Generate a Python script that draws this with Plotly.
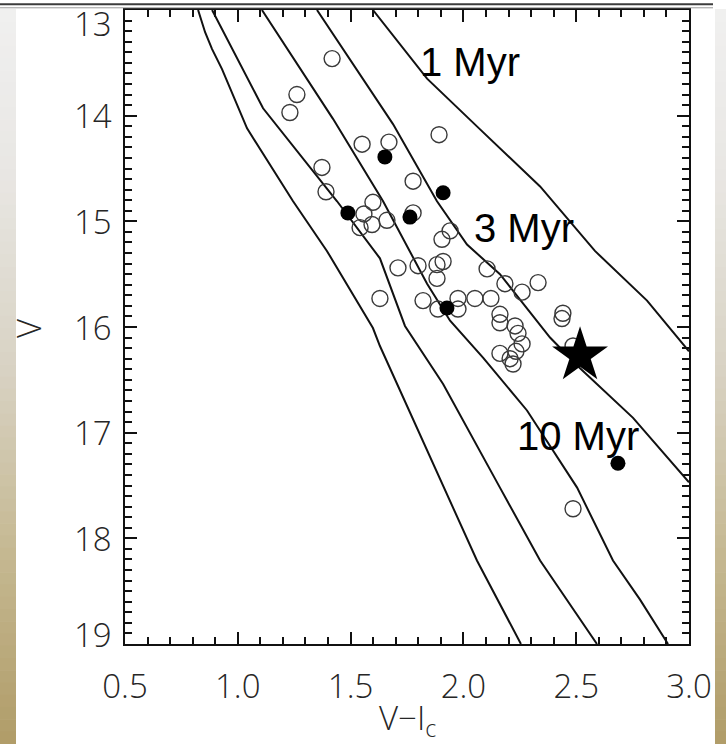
import plotly.graph_objects as go

# ---------------- data: colour-magnitude diagram ----------------
# isochrones (V - Ic, V), right to left
iso_1myr_vi = [1.599, 1.839, 2.074, 2.340, 2.583, 2.814, 3.000]
iso_1myr_v = [13.00, 13.65, 14.13, 14.67, 15.28, 15.75, 16.23]

iso_3myr_vi = [1.351, 1.688, 1.883, 2.016, 2.162, 2.384, 2.517, 2.752, 3.000]
iso_3myr_v = [13.00, 14.08, 14.81, 15.22, 15.50, 16.10, 16.39, 16.86, 17.47]

iso_10myr_vi = [1.107, 1.422, 1.644, 1.839, 1.941, 2.087, 2.282, 2.504, 2.663, 2.783, 2.907]
iso_10myr_v = [13.00, 14.03, 14.81, 15.59, 15.94, 16.29, 16.79, 17.52, 18.21, 18.58, 19.00]

iso_older_b_vi = [0.886, 1.112, 1.440, 1.630, 1.741, 1.910, 2.162, 2.340, 2.592]
iso_older_b_v = [13.00, 13.93, 14.81, 15.35, 15.99, 16.54, 17.52, 18.21, 19.00]

iso_older_a_vi = [0.824, 0.855, 0.886, 0.930, 1.041, 1.245, 1.395, 1.599, 1.630, 1.839, 2.060, 2.255]
iso_older_a_v = [13.00, 13.21, 13.37, 13.56, 14.12, 14.81, 15.28, 16.01, 16.18, 17.17, 18.21, 19.00]

iso_labels = ["1 Myr", "3 Myr", "10 Myr"]
iso_label_vi = [2.03, 2.27, 2.51]
iso_label_v = [13.49, 15.06, 17.03]

# members without / with the extra signature
open_vi = [1.418, 1.262, 1.231, 1.551, 1.670, 1.892, 1.373, 1.391, 1.777, 1.599,
           1.559, 1.542, 1.595, 1.661, 1.777, 1.941, 1.905, 1.710, 1.799, 1.883,
           1.910, 1.883, 2.105, 2.184, 2.260, 2.331, 1.630, 1.821, 1.887, 1.976,
           1.976, 2.051, 2.122, 2.162, 2.162, 2.229, 2.242, 2.260, 2.233, 2.162,
           2.207, 2.220, 2.441, 2.437, 2.486, 2.486]
open_v = [13.46, 13.80, 13.97, 14.27, 14.25, 14.18, 14.49, 14.72, 14.62, 14.82,
          14.93, 15.06, 15.03, 14.99, 14.92, 15.09, 15.17, 15.44, 15.42, 15.41,
          15.38, 15.54, 15.45, 15.59, 15.67, 15.58, 15.73, 15.75, 15.83, 15.73,
          15.83, 15.73, 15.73, 15.88, 15.96, 15.99, 16.06, 16.16, 16.23, 16.25,
          16.30, 16.35, 15.87, 15.92, 16.18, 17.72]

filled_vi = [1.652, 1.488, 1.763, 1.910, 1.927, 2.685]
filled_v = [14.39, 14.92, 14.96, 14.73, 15.82, 17.29]

star_vi = [2.517]
star_v = [16.27]

x_ticks = [0.5, 1.0, 1.5, 2.0, 2.5, 3.0]
y_ticks = [13, 14, 15, 16, 17, 18, 19]

# ---------------- figure geometry ----------------
W, H = 726, 744
L, R, T, B = 125, 689, 8, 644          # plot frame in pixels
PW, PH = R - L, B - T


def px_x(px):
    return (px - L) / PW


def px_y(py):
    return (B - py) / PH


FONT = "Liberation Sans, Arial, sans-serif"
AXFONT = dict(family="Open Sans, Liberation Sans, sans-serif", size=33,
              color="#262626", weight=300)
INK = "#111111"

fig = go.Figure()

isochrones = [
    (iso_older_a_vi, iso_older_a_v),
    (iso_older_b_vi, iso_older_b_v),
    (iso_10myr_vi, iso_10myr_v),
    (iso_3myr_vi, iso_3myr_v),
    (iso_1myr_vi, iso_1myr_v),
]
for xs, ys in isochrones:
    fig.add_trace(go.Scatter(x=xs, y=ys, mode="lines",
                             line=dict(color=INK, width=2),
                             hoverinfo="skip", showlegend=False))

fig.add_trace(go.Scatter(x=open_vi, y=open_v, mode="markers",
                         marker=dict(symbol="circle-open", size=16,
                                     line=dict(width=1.4, color="#3a3a3a"),
                                     color="#3a3a3a"),
                         showlegend=False))
fig.add_trace(go.Scatter(x=filled_vi, y=filled_v, mode="markers",
                         marker=dict(symbol="circle", size=15, color="black",
                                     line=dict(width=0)),
                         showlegend=False))
fig.add_trace(go.Scatter(x=star_vi, y=star_v, mode="markers",
                         marker=dict(symbol="star", size=42, color="black",
                                     line=dict(width=0)),
                         showlegend=False))

annotations = []
for txt, xv, yv in zip(iso_labels, iso_label_vi, iso_label_v):
    annotations.append(dict(x=xv, y=yv, xref="x", yref="y", text=txt,
                            showarrow=False, xanchor="center", yanchor="middle",
                            font=dict(family=FONT, size=40, color="black")))

# y tick labels (end labels sit slightly inside the frame)
end_nudge = {13: -13, 19: 10}
for v in y_ticks:
    annotations.append(dict(x=0, y=v, xref="paper", yref="y", text=str(v),
                            showarrow=False, xanchor="right", yanchor="middle",
                            xshift=-11, yshift=end_nudge.get(v, 0),
                            font=AXFONT))

# axis titles
annotations.append(dict(x=0.5, y=px_y(693), xref="paper", yref="paper",
                        text="V\u2212I<sub>c</sub>", showarrow=False,
                        xanchor="center", yanchor="top", font=AXFONT))
annotations.append(dict(x=px_x(29), y=px_y(327), xref="paper", yref="paper",
                        text="V", textangle=-90, showarrow=False,
                        xanchor="center", yanchor="middle", font=AXFONT))

# side strips with a grey-to-gold vertical gradient
stops = [(7, (240, 240, 240)), (180, (232, 230, 226)), (370, (216, 210, 195)),
         (555, (197, 184, 145)), (744, (176, 156, 104))]


def grad(py):
    for (y0, c0), (y1, c1) in zip(stops[:-1], stops[1:]):
        if py <= y1:
            t = (py - y0) / (y1 - y0)
            return "rgb(%d,%d,%d)" % tuple(round(a + (b - a) * t) for a, b in zip(c0, c1))
    return "rgb(%d,%d,%d)" % stops[-1][1]


shapes = []
n_bands = 60
for i in range(n_bands):
    ya = 7 + i * (H - 7) / n_bands
    yb = 7 + (i + 1) * (H - 7) / n_bands + 0.6
    col = grad((ya + yb) / 2)
    for xa, xb in [(0, 16), (715, 726)]:
        shapes.append(dict(type="rect", xref="paper", yref="paper",
                           x0=px_x(xa), x1=px_x(xb), y0=px_y(yb), y1=px_y(ya),
                           fillcolor=col, line=dict(width=0), layer="below"))

# rules across the top edge
shapes.append(dict(type="line", xref="paper", yref="paper",
                   x0=px_x(0), x1=px_x(713), y0=px_y(2.2), y1=px_y(2.2),
                   line=dict(color="#3c3c3c", width=2)))
shapes.append(dict(type="line", xref="paper", yref="paper",
                   x0=px_x(0), x1=px_x(713), y0=px_y(5.8), y1=px_y(5.8),
                   line=dict(color="#9a9a9a", width=1)))

axis_common = dict(showline=True, linewidth=2, linecolor=INK, mirror="ticks",
                   ticks="inside", tickwidth=2, tickcolor=INK, ticklen=12,
                   showgrid=False, zeroline=False)

fig.update_layout(
    width=W, height=H,
    margin=dict(l=L, r=W - R, t=T, b=H - B),
    paper_bgcolor="white", plot_bgcolor="white",
    showlegend=False,
    xaxis=dict(range=[0.5, 3.0], tickvals=x_ticks, tickformat=".1f",
               tickfont=AXFONT, ticklabelstandoff=12,
               minor=dict(ticks="inside", ticklen=7, tickwidth=1.5,
                          tickcolor=INK, dtick=0.1),
               **axis_common),
    yaxis=dict(range=[19, 13], tickvals=y_ticks, showticklabels=False,
               minor=dict(ticks="inside", ticklen=7, tickwidth=1.5,
                          tickcolor=INK, dtick=0.1),
               **axis_common),
    annotations=annotations,
    shapes=shapes,
)

fig.write_html("out.html")
